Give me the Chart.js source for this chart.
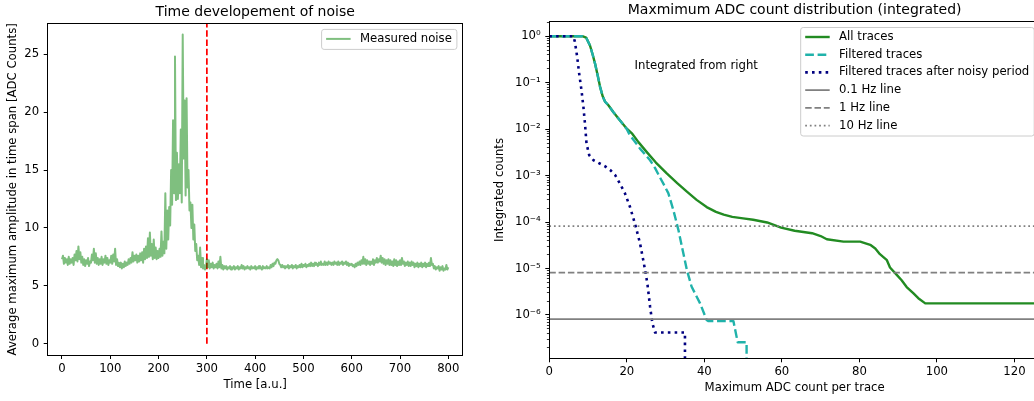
<!DOCTYPE html>
<html>
<head>
<meta charset="utf-8">
<script src="https://cdn.jsdelivr.net/npm/chart.js@4.4.1/dist/chart.umd.min.js"></script>
<style>
html, body { margin: 0; padding: 0; background: #fff; overflow: hidden; width: 1034px; height: 401px; }
#noiseChart { position: absolute; left: 0; top: 0; }
#countChart { position: absolute; left: 490px; top: 0; }
</style>
</head>
<body>
<canvas id="noiseChart" width="490" height="401"></canvas>
<canvas id="countChart" width="610" height="401"></canvas>
<script>
// ===================== LEFT CHART DATA =====================
const noiseTimeStep = 2; // time units between samples (sample i is at i * step)
const noiseAmplitude = [
  7.3,7.6,6.9,7.4,7.0,7.3,6.8,7.5,6.9,7.3,
  7.0,7.4,6.8,7.7,7.2,8.0,7.1,8.4,7.3,7.9,
  7.0,7.5,6.8,7.3,6.7,7.2,6.9,7.4,6.7,7.1,
  7.0,7.7,7.2,8.2,7.0,7.8,6.9,7.4,6.8,7.3,
  6.9,7.5,6.8,7.3,7.0,7.6,6.9,7.4,6.8,7.2,
  7.0,7.6,6.9,7.7,7.1,8.2,6.8,7.3,6.7,7.0,
  6.6,7.0,6.5,6.9,6.6,7.1,6.7,7.0,6.8,7.3,
  6.9,7.4,7.0,7.9,7.1,7.6,7.2,7.7,7.0,7.6,
  7.1,7.8,7.2,7.9,7.0,8.2,7.3,8.4,7.4,9.1,
  7.5,9.6,7.6,8.6,7.3,9.0,7.4,8.3,7.3,8.0,
  7.4,8.2,7.5,9.7,7.6,8.8,7.8,13.0,8.2,11.5,
  9.0,11.8,10.2,15.0,12.0,19.3,13.0,24.8,12.4,16.5,
  12.5,15.5,13.0,18.5,12.2,26.7,16.0,21.0,12.8,21.2,
  13.5,15.0,11.5,12.2,10.0,12.0,9.0,10.3,8.0,8.6,
  7.2,7.6,6.8,8.3,6.6,7.4,6.5,6.8,6.4,6.6,
  7.3,6.6,7.2,6.5,6.9,6.6,7.0,6.5,6.8,6.6,
  6.9,6.5,7.1,6.6,7.5,6.5,6.8,6.4,6.7,6.5,
  6.7,6.4,6.6,6.5,6.7,6.4,6.6,6.5,6.7,6.4,
  6.6,6.5,6.7,6.4,6.6,6.5,6.8,6.5,6.7,6.4,
  6.6,6.5,6.7,6.5,6.6,6.4,6.7,6.5,6.6,6.5,
  6.7,6.4,6.6,6.5,6.7,6.5,6.6,6.4,6.7,6.5,
  6.6,6.5,6.7,6.5,6.6,6.5,6.8,6.6,6.9,6.7,
  7.0,6.9,7.2,7.3,7.2,6.9,6.8,6.6,6.8,6.6,
  6.7,6.5,6.7,6.6,6.8,6.5,6.7,6.6,6.8,6.5,
  6.7,6.6,6.8,6.5,6.7,6.6,6.8,6.6,6.9,6.6,
  6.8,6.7,6.9,6.6,6.8,6.7,6.9,6.7,7.0,6.7,
  6.9,6.7,7.0,6.8,6.9,6.7,7.0,6.8,7.1,6.8,
  6.9,6.8,7.1,6.8,7.0,6.8,7.1,6.9,7.0,6.8,
  7.0,6.8,7.1,6.9,7.0,6.8,7.1,6.8,7.0,6.9,
  7.1,6.8,7.0,6.9,7.1,6.8,7.0,6.7,6.9,6.8,
  6.9,6.7,6.8,6.6,6.9,6.7,7.0,6.8,7.1,6.8,
  7.2,6.9,7.5,6.9,7.3,6.8,7.2,6.9,7.1,6.8,
  7.1,6.9,7.3,6.8,7.2,7.0,7.4,7.0,7.3,7.1,
  7.6,7.0,7.4,6.9,7.3,6.8,7.2,6.9,7.3,6.8,
  7.2,6.8,7.1,6.7,7.3,6.8,7.2,6.7,7.1,6.8,
  7.2,6.8,7.4,6.9,7.1,6.7,7.0,6.8,7.1,6.7,
  7.0,6.7,7.1,6.8,7.0,6.6,6.9,6.7,7.0,6.6,
  6.9,6.7,7.0,6.6,6.9,6.7,7.0,6.6,6.9,6.7,
  7.0,6.7,7.4,6.8,6.9,6.5,6.7,6.4,6.6,6.5,
  6.7,6.3,6.6,6.4,6.7,6.3,6.5,6.4,6.8,6.4,
  6.6
];
const cutTime = 300;            // end of noisy period
const cutSpan = [0, 28];        // vertical extent of the cut marker
const noiseTimeTicks = [0, 100, 200, 300, 400, 500, 600, 700, 800];
const noiseAmpTicks = [0, 5, 10, 15, 20, 25];

// ===================== RIGHT CHART DATA =====================
const allTracesX = [0,8.5,9.5,10.5,11.2,11.8,12.5,13.1,13.8,14.4,15.2,16.5,18.2,20,21.3,23,25.1,27.5,30.3,33,35.5,38,40.6,43,45,47.2,50,52.6,56.2,59.8,63.3,67.8,70,71.6,75.9,80.2,82.8,84.1,85.3,87.1,87.9,89.7,90.9,92.2,93.9,95.2,97,130];
const allTracesY = [1,1,0.933,0.631,0.398,0.257,0.141,0.0813,0.0501,0.0389,0.0331,0.0234,0.0155,0.0102,0.00813,0.00525,0.00324,0.00191,0.00112,6.9e-4,4.5e-4,3.0e-4,2.1e-4,1.66e-4,1.45e-4,1.29e-4,1.2e-4,1.12e-4,9.8e-5,7.6e-5,6.5e-5,5.75e-5,5.0e-5,4.27e-5,3.8e-5,3.8e-5,3.24e-5,2.7e-5,2.04e-5,1.51e-5,1.05e-5,7.2e-6,5.6e-6,4.0e-6,2.95e-6,2.3e-6,1.78e-6,1.78e-6];

const filteredX = [0,8.5,9.5,10.5,11.2,11.8,12.5,13.1,13.8,14.4,15.2,16.5,18.2,20,20.8,22,23.4,24.8,26,27.3,28.5,29.6,30.7,32,33.3,34.4,35.5,36.7,38.9,40.6,41,47.5,48.6,50.9,50.9];
const filteredY = [1,1,0.933,0.631,0.398,0.257,0.141,0.0813,0.0501,0.0389,0.0331,0.0234,0.0155,0.01,0.0074,0.0055,0.0038,0.0028,0.00214,0.00145,9.3e-4,6.3e-4,4.2e-4,1.82e-4,6.8e-5,2.5e-5,9.3e-6,4.1e-6,1.78e-6,7.8e-7,7.4e-7,7.4e-7,2.6e-7,2.6e-7,0];

const afterNoisyX = [0,6.2,6.6,7.2,7.7,8.3,8.8,9.2,9.6,10.3,11.4,12.6,14.4,15.7,17,18.2,19.5,20.8,22.1,23.4,24.4,25.3,26,26.6,27.3,35,35];
const afterNoisyY = [1,1,0.76,0.355,0.158,0.069,0.030,0.0132,0.0049,0.00275,0.00214,0.0019,0.00158,0.00132,0.00102,6.8e-4,4.2e-4,2.14e-4,9.3e-5,3.5e-5,1.29e-5,4.8e-6,1.51e-6,6.6e-7,4.2e-7,4.2e-7,0];

const rateLineLabels = ['0.1 Hz line', '1 Hz line', '10 Hz line'];
const rateLineLevels = [8.2e-7, 8.2e-6, 8.2e-5];

const adcTicks = [0, 20, 40, 60, 80, 100, 120];
const countTicks = [1e-6, 1e-5, 1e-4, 1e-3, 1e-2, 1e-1, 1];
const countTickLabels = ['10\u207B\u2076', '10\u207B\u2075', '10\u207B\u2074', '10\u207B\u00B3', '10\u207B\u00B2', '10\u207B\u00B9', '10\u2070'];
const noteText = 'Integrated from right';
const noteAnchor = { x: 22, y: 0.2 };

// axis limits
const noiseXLim = [-29.6, 829.8];
const noiseYLim = [-0.98, 27.65];
const adcXLim = [0, 126.6];
const countYLim = [1.17e-7, 2.05];

// ===================== HELPERS =====================
const FONT = '"DejaVu Sans", "Liberation Sans", sans-serif';
Chart.defaults.font.family = FONT;
Chart.defaults.font.size = 11.7;
Chart.defaults.color = '#000';

const alignPx = p => Math.round(p - 0.5) + 0.5;

const framePlugin = {
  id: 'frame',
  afterDatasetsDraw(chart) {
    const { ctx, chartArea: a } = chart;
    ctx.save();
    ctx.strokeStyle = '#000';
    ctx.lineWidth = 1;
    ctx.setLineDash([]);
    const l = alignPx(a.left), r = alignPx(a.right), t = alignPx(a.top), b = alignPx(a.bottom);
    ctx.strokeRect(l, t, r - l, b - t);
    ctx.restore();
  }
};

const minorLogTicksPlugin = {
  id: 'minorLogTicks',
  afterDatasetsDraw(chart) {
    const { ctx, chartArea: a } = chart;
    const ys = chart.scales.y;
    ctx.save();
    ctx.strokeStyle = '#000';
    ctx.lineWidth = 0.8;
    for (let d = -8; d <= 1; d++) {
      for (let k = 2; k <= 9; k++) {
        const v = k * Math.pow(10, d);
        if (v < ys.min || v > ys.max) continue;
        const y = alignPx(ys.getPixelForValue(v));
        ctx.beginPath();
        ctx.moveTo(a.left - 2.4, y);
        ctx.lineTo(a.left, y);
        ctx.stroke();
      }
    }
    ctx.restore();
  }
};

const notePlugin = {
  id: 'note',
  afterDatasetsDraw(chart) {
    const { ctx } = chart;
    const x = chart.scales.x.getPixelForValue(noteAnchor.x);
    const y = chart.scales.y.getPixelForValue(noteAnchor.y);
    ctx.save();
    ctx.font = '11.7px ' + FONT;
    ctx.fillStyle = '#000';
    ctx.textAlign = 'left';
    ctx.textBaseline = 'alphabetic';
    ctx.fillText(noteText, x, y);
    ctx.restore();
  }
};

const insideLegendPlugin = {
  id: 'insideLegend',
  afterDraw(chart) {
    const { ctx, chartArea: a } = chart;
    const items = chart.data.datasets.filter(d => d.label);
    if (!items.length) return;
    ctx.save();
    ctx.font = '11.7px ' + FONT;
    const tw = Math.max(...items.map(d => ctx.measureText(d.label).width));
    const padL = 4.5, handle = 24.5, gap = 9.4, padR = 5, rowH = 17.7, top0 = 9.5, bot = 10.5;
    const w = padL + handle + gap + tw + padR;
    const h = top0 + (items.length - 1) * rowH + bot;
    const x0 = a.right - 5.8 - w, y0 = a.top + 5.8;
    ctx.beginPath();
    if (ctx.roundRect) ctx.roundRect(x0, y0, w, h, 2.5); else ctx.rect(x0, y0, w, h);
    ctx.fillStyle = 'rgba(255,255,255,0.8)';
    ctx.fill();
    ctx.strokeStyle = '#cccccc';
    ctx.lineWidth = 1;
    ctx.stroke();
    items.forEach((d, i) => {
      const cy = y0 + top0 + i * rowH;
      ctx.beginPath();
      ctx.setLineDash(d.borderDash || []);
      ctx.lineDashOffset = 0;
      ctx.lineCap = 'butt';
      ctx.strokeStyle = d.borderColor;
      ctx.lineWidth = d.borderWidth;
      ctx.moveTo(x0 + padL, cy);
      ctx.lineTo(x0 + padL + handle, cy);
      ctx.stroke();
      ctx.setLineDash([]);
      ctx.fillStyle = '#000';
      ctx.textAlign = 'left';
      ctx.textBaseline = 'middle';
      ctx.fillText(d.label, x0 + padL + handle + gap, cy);
    });
    ctx.restore();
  }
};

const tickGrid = { display: true, drawOnChartArea: false, drawTicks: true, tickLength: 4, tickColor: '#000', tickWidth: 1 };

// ===================== LEFT CHART =====================
const noiseSeries = noiseAmplitude.map((v, i) => ({ x: i * noiseTimeStep, y: v }));

new Chart(document.getElementById('noiseChart'), {
  type: 'line',
  data: {
    datasets: [
      {
        label: 'Measured noise',
        data: noiseSeries,
        borderColor: 'rgba(0,128,0,0.5)',
        borderWidth: 2,
        borderJoinStyle: 'round',
        pointRadius: 0,
        tension: 0,
        fill: false,
        order: 1
      },
      {
        label: '',
        data: [{ x: cutTime, y: cutSpan[0] }, { x: cutTime, y: cutSpan[1] }],
        borderColor: '#ff0000',
        borderWidth: 1.75,
        borderDash: [6.5, 2.8],
        pointRadius: 0,
        fill: false,
        order: 2
      }
    ]
  },
  options: {
    responsive: false,
    animation: false,
    events: [],
    layout: { padding: { left: 0, right: 27.3, top: 0, bottom: 0 } },
    plugins: {
      legend: { display: false },
      tooltip: { enabled: false },
      title: {
        display: true, fullSize: false,
        text: 'Time developement of noise',
        font: { size: 14, weight: 'normal' },
        color: '#000',
        padding: { top: 3.9, bottom: 2.9 }
      }
    },
    scales: {
      x: {
        type: 'linear', bounds: 'data',
        min: noiseXLim[0], max: noiseXLim[1],
        afterBuildTicks: s => { s.ticks = noiseTimeTicks.map(v => ({ value: v })); },
        afterFit: s => { s.height = 46; },
        grid: tickGrid,
        border: { display: false },
        ticks: { autoSkip: false, maxRotation: 0, padding: 3, color: '#000' },
        title: { display: true, text: 'Time [a.u.]', color: '#000', padding: { top: 0, bottom: 9 } }
      },
      y: {
        type: 'linear', bounds: 'data',
        min: noiseYLim[0], max: noiseYLim[1],
        afterBuildTicks: s => { s.ticks = noiseAmpTicks.map(v => ({ value: v })); },
        afterFit: s => { s.width = 47.7; },
        grid: tickGrid,
        border: { display: false },
        ticks: { padding: 4.6, color: '#000' },
        title: { display: true, text: 'Average maximum amplitude in time span [ADC Counts]', color: '#000', padding: { top: 6.3, bottom: 0 } }
      }
    }
  },
  plugins: [framePlugin, insideLegendPlugin]
});

// ===================== RIGHT CHART =====================
// Zero counts cannot sit on a log axis: like matplotlib's clipping, they are sent below the axis floor.
const toXY = (xs, ys) => xs.map((x, i) => ({ x, y: ys[i] > 0 ? ys[i] : countYLim[0] / 100 }));
const rateDashes = [[], [6.5, 2.8], [1.75, 2.9]];

const countDatasets = [
  {
    label: 'All traces',
    data: toXY(allTracesX, allTracesY),
    borderColor: '#228b22', borderWidth: 2.4, borderDash: [],
    order: 6
  },
  {
    label: 'Filtered traces',
    data: toXY(filteredX, filteredY),
    borderColor: '#20b2aa', borderWidth: 2.4, borderDash: [8.7, 3.7],
    order: 5
  },
  {
    label: 'Filtered traces after noisy period',
    data: toXY(afterNoisyX, afterNoisyY),
    borderColor: '#000080', borderWidth: 2.6, borderDash: [2.6, 4.2],
    order: 4
  }
].concat(rateLineLevels.map((lvl, i) => ({
  label: rateLineLabels[i],
  data: [{ x: adcXLim[0], y: lvl }, { x: adcXLim[1], y: lvl }],
  borderColor: '#808080', borderWidth: 1.75, borderDash: rateDashes[i],
  order: 3 - i
}))).map(d => Object.assign(d, { pointRadius: 0, tension: 0, fill: false, borderJoinStyle: 'round' }));

new Chart(document.getElementById('countChart'), {
  type: 'line',
  data: { datasets: countDatasets },
  options: {
    responsive: false,
    animation: false,
    events: [],
    layout: { padding: { left: 0, right: 60, top: 0, bottom: 0 } },
    plugins: {
      legend: { display: false },
      tooltip: { enabled: false },
      title: {
        display: true, fullSize: false,
        text: 'Maxmimum ADC count distribution (integrated)',
        font: { size: 14, weight: 'normal' },
        color: '#000',
        padding: { top: 2.0, bottom: 2.9 }
      }
    },
    scales: {
      x: {
        type: 'linear', bounds: 'data',
        min: adcXLim[0], max: adcXLim[1],
        afterBuildTicks: s => { s.ticks = adcTicks.map(v => ({ value: v })); },
        afterFit: s => { s.height = 42.7; },
        grid: tickGrid,
        border: { display: false },
        ticks: { autoSkip: false, maxRotation: 0, padding: 3, color: '#000' },
        title: { display: true, text: 'Maximum ADC count per trace', color: '#000', padding: { top: 0, bottom: 6.3 } }
      },
      y: {
        type: 'logarithmic', bounds: 'data',
        min: countYLim[0], max: countYLim[1],
        afterBuildTicks: s => { s.ticks = countTicks.map(v => ({ value: v, major: true })); },
        afterFit: s => { s.width = 59.3; },
        grid: tickGrid,
        border: { display: false },
        ticks: { padding: 4.6, color: '#000', autoSkip: false, callback: (v, i) => countTickLabels[i] },
        title: { display: true, text: 'Integrated counts', color: '#000', padding: { top: 3.4, bottom: 0 } }
      }
    }
  },
  plugins: [framePlugin, minorLogTicksPlugin, notePlugin, insideLegendPlugin]
});
</script>
</body>
</html>
